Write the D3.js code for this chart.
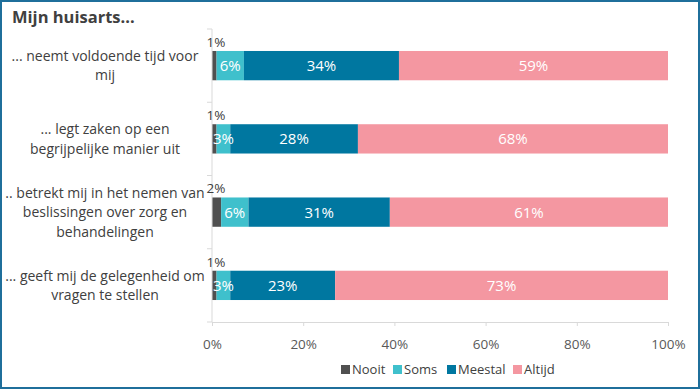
<!DOCTYPE html>
<html><head><meta charset="utf-8">
<script src="https://cdn.jsdelivr.net/npm/d3@7"></script>
<style>
body{margin:0;background:#fff;}
svg{display:block;font-family:"Open Sans","Liberation Sans",sans-serif;}
</style></head>
<body><svg id="c" width="700" height="389"></svg>
<script>
const categories = [
  ["... neemt voldoende tijd voor", "mij"],
  ["... legt zaken op een", "begrijpelijke manier uit"],
  [".. betrekt mij in het nemen van", "beslissingen over zorg en", "behandelingen"],
  ["... geeft mij de gelegenheid om", "vragen te stellen"]
];
const seriesNames = ["Nooit", "Soms", "Meestal", "Altijd"];
const nooit   = [1, 1, 2, 1];
const soms    = [6, 3, 6, 3];
const meestal = [34, 28, 31, 23];
const altijd  = [59, 68, 61, 73];
const xTicks = [0, 20, 40, 60, 80, 100];
const colors = ["#505050", "#3fc0cc", "#0077a0", "#f497a1"];

const svg = d3.select("#c");
const W = 700, H = 389;
svg.append("rect").attr("x",1).attr("y",1).attr("width",W-2).attr("height",H-2)
  .attr("fill","#fff").attr("stroke","#1f6f9b").attr("stroke-width",2);

svg.append("text").attr("x",12).attr("y",23).attr("font-size",16.5).attr("font-weight","bold")
  .attr("fill","#404040").text("Mijn huisarts...");

const x = d3.scaleLinear().domain([0,100]).range([212,668]);
const y = d3.scaleBand().domain(d3.range(categories.length)).range([29,322]).paddingInner(0.6).paddingOuter(0.3);

const data = [nooit, soms, meestal, altijd];
const rows = categories.map((c,i)=>{
  let acc=0;
  return data.map((s,k)=>{const v=s[i]; const seg={k,i,v,x0:acc,x1:acc+v}; acc+=v; return seg;});
});

// bars
const g = svg.append("g");
rows.forEach(r=>{
  r.forEach(s=>{
    g.append("rect").attr("x",x(s.x0)).attr("y",y(s.i)).attr("width",x(s.x1)-x(s.x0))
      .attr("height",y.bandwidth()).attr("fill",colors[s.k]);
  });
});

// axes
const yAxisX = x(0);
svg.append("line").attr("x1",yAxisX).attr("x2",yAxisX).attr("y1",29).attr("y2",322).attr("stroke","#d9d9d9");
const step = (322-29)/categories.length;
d3.range(categories.length+1).forEach(j=>{
  svg.append("line").attr("x1",yAxisX-5).attr("x2",yAxisX).attr("y1",29+j*step).attr("y2",29+j*step).attr("stroke","#d9d9d9");
});
const xAxis = d3.axisBottom(x).tickValues(xTicks).tickFormat(d=>d+"%").tickSize(4).tickSizeOuter(0);
const xg = svg.append("g").attr("transform","translate(0,322)").call(xAxis);
xg.select(".domain").attr("stroke","#d9d9d9");
xg.selectAll(".tick line").attr("stroke","#d9d9d9");
xg.selectAll(".tick text").attr("font-size",13.5).attr("fill","#595959").attr("dy","1.45em")
  .attr("font-family","'Open Sans',sans-serif");

// labels
rows.forEach(r=>{
  r.forEach(s=>{
    const cy = y(s.i)+y.bandwidth()/2;
    if(s.k===0){
      svg.append("text").attr("x",x(s.x0)+4).attr("y",y(s.i)-4).attr("text-anchor","middle")
        .attr("font-size",13.5).attr("fill","#404040").text(s.v+"%");
    } else {
      svg.append("text").attr("x",(x(s.x0)+x(s.x1))/2).attr("y",cy).attr("dy","0.36em")
        .attr("text-anchor","middle").attr("font-size",15).attr("fill","#fff").text(s.v+"%");
    }
  });
});

// category labels
categories.forEach((lines,i)=>{
  const cy = y(i)+y.bandwidth()/2;
  const lh = 19.5;
  const t = svg.append("text").attr("text-anchor","middle").attr("font-size",14).attr("fill","#404040");
  lines.forEach((l,j)=>{
    t.append("tspan").attr("x",105).attr("y",cy+(j-(lines.length-1)/2)*lh).attr("dy","0.35em").text(l);
  });
});

// legend
const legX = [341, 393, 447, 513];
seriesNames.forEach((n,k)=>{
  svg.append("rect").attr("x",legX[k]).attr("y",365).attr("width",9).attr("height",9).attr("fill",colors[k]);
  svg.append("text").attr("x",legX[k]+11).attr("y",369.5).attr("dy","0.35em").attr("font-size",13)
    .attr("fill","#404040").text(n);
});
</script></body></html>
